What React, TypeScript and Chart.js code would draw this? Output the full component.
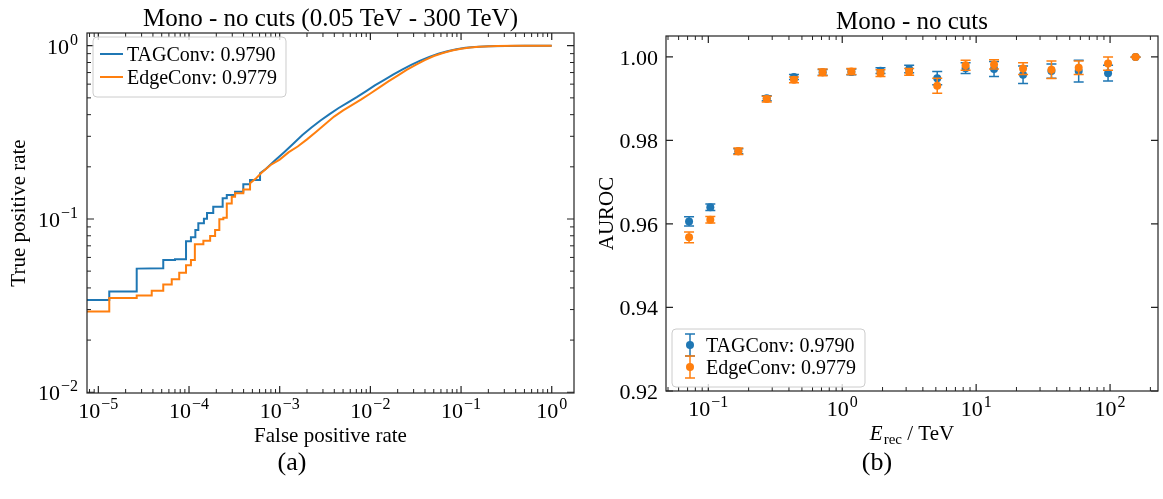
import React, { useEffect, useRef } from 'react';
import { Chart, registerables } from 'chart.js';

Chart.register(...registerables);

const SERIF = '"Liberation Serif", "Times New Roman", Times, serif';
const BLUE = '#1f77b4';
const ORANGE = '#ff7f0e';

// ---------------- data ----------------
const tagLabel = 'TAGConv: 0.9790';
const edgeLabel = 'EdgeConv: 0.9779';

// ROC curve (false positive rate, true positive rate), TAGConv
const tagFpr = [
  1e-6, 1.32e-5, 1.32e-5, 2.65e-5, 2.65e-5, 5.2e-5, 5.2e-5, 7.0e-5, 7.0e-5, 9.27e-5,
  9.27e-5, 1.05e-4, 1.05e-4, 1.175e-4, 1.175e-4, 1.267e-4, 1.267e-4, 1.46e-4, 1.46e-4, 1.58e-4,
  1.58e-4, 1.85e-4, 1.85e-4, 2.35e-4, 2.35e-4, 2.61e-4, 2.61e-4, 3.22e-4, 3.22e-4, 3.97e-4,
  3.97e-4, 4.71e-4, 4.71e-4, 6.07e-4, 6.07e-4,
  7.08e-4, 8.91e-4, 1.12e-3, 1.41e-3, 1.78e-3, 2.24e-3, 2.82e-3, 3.55e-3, 4.47e-3, 5.62e-3,
  7.08e-3, 8.91e-3, 1.12e-2, 1.41e-2, 1.78e-2, 2.24e-2, 2.82e-2, 3.55e-2, 4.47e-2, 5.62e-2,
  7.08e-2, 8.91e-2, 0.112, 0.141, 0.2, 0.316, 0.5, 1.0,
];
const tagTpr = [
  0.0341, 0.0341, 0.0381, 0.0381, 0.0517, 0.0520, 0.0580, 0.0580, 0.0586, 0.0586,
  0.0743, 0.0743, 0.0784, 0.0784, 0.0865, 0.0865, 0.0944, 0.0944, 0.1004, 0.1004,
  0.1083, 0.1083, 0.1178, 0.1178, 0.1316, 0.1316, 0.1375, 0.1375, 0.1437, 0.1437,
  0.1585, 0.1585, 0.168, 0.168, 0.1835,
  0.195, 0.218, 0.243, 0.272, 0.305, 0.337, 0.37, 0.403, 0.437, 0.47,
  0.505, 0.545, 0.59, 0.632, 0.68, 0.728, 0.775, 0.82, 0.862, 0.898,
  0.93, 0.955, 0.972, 0.984, 0.993, 0.997, 0.999, 1.0,
];

// ROC curve, EdgeConv
const edgeFpr = [
  1e-6, 1.32e-5, 1.32e-5, 2.65e-5, 2.65e-5, 3.88e-5, 3.88e-5, 5.2e-5, 5.2e-5, 6.45e-5,
  6.45e-5, 7.8e-5, 7.8e-5, 9.27e-5, 9.27e-5, 1.05e-4, 1.05e-4, 1.16e-4, 1.16e-4, 1.44e-4,
  1.44e-4, 1.71e-4, 1.71e-4, 1.94e-4, 1.94e-4, 2.16e-4, 2.16e-4, 2.39e-4, 2.39e-4, 2.61e-4,
  2.61e-4, 2.96e-4, 2.96e-4, 3.22e-4, 3.22e-4, 3.97e-4, 3.97e-4, 4.71e-4, 4.71e-4,
  5.5e-4, 6.31e-4, 7.94e-4, 1e-3, 1.26e-3, 1.58e-3, 2.0e-3, 2.51e-3, 3.16e-3, 3.98e-3,
  5.01e-3, 6.31e-3, 7.94e-3, 1e-2, 1.26e-2, 1.58e-2, 2e-2, 2.51e-2, 3.16e-2, 3.98e-2,
  5.01e-2, 6.31e-2, 7.94e-2, 0.1, 0.126, 0.158, 0.251, 0.398, 0.631, 1.0,
];
const edgeTpr = [
  0.0292, 0.0292, 0.0350, 0.0350, 0.0362, 0.0362, 0.0385, 0.0385, 0.0418, 0.0418,
  0.0449, 0.0449, 0.049, 0.049, 0.0541, 0.0541, 0.058, 0.058, 0.0714, 0.0714,
  0.0749, 0.0749, 0.0798, 0.0798, 0.0865, 0.0865, 0.0996, 0.0996, 0.1015, 0.1015,
  0.123, 0.123, 0.1345, 0.1345, 0.1406, 0.1406, 0.148, 0.148, 0.1607,
  0.172, 0.185, 0.205, 0.22, 0.243, 0.262, 0.288, 0.318, 0.352, 0.39,
  0.423, 0.455, 0.49, 0.53, 0.575, 0.622, 0.672, 0.725, 0.775, 0.825,
  0.872, 0.908, 0.938, 0.961, 0.977, 0.987, 0.995, 0.998, 0.9995, 1.0,
];

// AUROC per reconstructed-energy bin
const energyTeV = [0.0718, 0.1035, 0.1675, 0.273, 0.436, 0.714, 1.17, 1.93, 3.16, 5.12, 8.34, 13.6, 22.4, 36.5, 58.3, 96.6, 155];
const tagAuroc = [0.9606, 0.9640, 0.9774, 0.9901, 0.9952, 0.9963, 0.9964, 0.9967, 0.9971, 0.9949, 0.9973, 0.9971, 0.9957, 0.9966, 0.9966, 0.9961, 0.99995];
const tagAurocErr = [0.0011, 0.0008, 0.0006, 0.0006, 0.0006, 0.0007, 0.0007, 0.0007, 0.0009, 0.0016, 0.0013, 0.0018, 0.0021, 0.0017, 0.0026, 0.0019, 0.00005];
const edgeAuroc = [0.9568, 0.9610, 0.9774, 0.9899, 0.9945, 0.9963, 0.9965, 0.9961, 0.9964, 0.9931, 0.9980, 0.9982, 0.9972, 0.9969, 0.9974, 0.9984, 0.99995];
const edgeAurocErr = [0.0013, 0.0008, 0.0008, 0.0007, 0.0007, 0.0008, 0.0007, 0.0008, 0.0008, 0.0018, 0.0012, 0.0011, 0.0014, 0.0021, 0.0016, 0.0016, 0.00005];

// ticks
const rocXMajorTicks = [1e-5, 1e-4, 1e-3, 1e-2, 1e-1, 1];
const rocYMajorTicks = [1e-2, 1e-1, 1];
const energyMajorTicks = [0.1, 1, 10, 100];
const aurocTicks = [0.92, 0.94, 0.96, 0.98, 1.0];
const aurocTickLabels = ['0.92', '0.94', '0.96', '0.98', '1.00'];

const ROC_X = { min: 7.5e-6, max: 1.76 };
const ROC_Y = { min: 0.0099, max: 1.184 };
const EN_X = { min: 0.0483, max: 228 };
const AU_Y = { min: 0.92, max: 1.005 };

// ---------------- helpers ----------------
function logMinor(min: number, max: number): number[] {
  const out: number[] = [];
  for (let e = Math.floor(Math.log10(min)); e <= Math.ceil(Math.log10(max)); e++) {
    for (let m = 2; m <= 9; m++) {
      const v = m * Math.pow(10, e);
      if (v >= min && v <= max) out.push(v);
    }
  }
  return out;
}

function drawPow(ctx: CanvasRenderingContext2D, v: number, x: number, y: number, align: 'center' | 'right') {
  const e = Math.round(Math.log10(v));
  const exp = e < 0 ? '\u2212' + Math.abs(e) : String(e);
  ctx.font = `22px ${SERIF}`;
  const wb = ctx.measureText('10').width;
  ctx.font = `16px ${SERIF}`;
  const we = ctx.measureText(exp).width;
  const tot = wb + 1 + we;
  const x0 = align === 'center' ? x - tot / 2 : x - tot;
  ctx.textAlign = 'left';
  ctx.textBaseline = 'alphabetic';
  ctx.font = `22px ${SERIF}`;
  ctx.fillText('10', x0, y);
  ctx.font = `16px ${SERIF}`;
  ctx.fillText(exp, x0 + wb + 1, y - 9);
}

function roundRectPath(ctx: CanvasRenderingContext2D, x: number, y: number, w: number, h: number, r: number) {
  ctx.beginPath();
  ctx.moveTo(x + r, y);
  ctx.lineTo(x + w - r, y);
  ctx.arcTo(x + w, y, x + w, y + r, r);
  ctx.lineTo(x + w, y + h - r);
  ctx.arcTo(x + w, y + h, x + w - r, y + h, r);
  ctx.lineTo(x + r, y + h);
  ctx.arcTo(x, y + h, x, y + h - r, r);
  ctx.lineTo(x, y + r);
  ctx.arcTo(x, y, x + r, y, r);
  ctx.closePath();
}

type Spec = {
  id: string;
  title: string;
  xMajor: number[];
  xMinor: number[];
  yMajor: number[];
  yMinor: number[];
  yLabels?: string[];
  yPow: boolean;
  xTitle: 'fpr' | 'energy';
  yTitle: string;
  yTitleOffset: number;
  legend: 'line' | 'errorbar';
  colors: string[];
  errors?: number[][];
  caption: string;
  captionX: number;
  captionY: number;
};

function mplPlugin(spec: Spec) {
  return {
    id: 'mpl-' + spec.id,
    beforeDatasetDraw(chart: any, args: any) {
      if (!spec.errors) return;
      const i = args.index;
      const errs = spec.errors[i];
      const xs = chart.scales.x;
      const ys = chart.scales.y;
      const ctx: CanvasRenderingContext2D = chart.ctx;
      const a = chart.chartArea;
      ctx.save();
      ctx.beginPath();
      ctx.rect(a.left, a.top, a.right - a.left, a.bottom - a.top);
      ctx.clip();
      ctx.strokeStyle = spec.colors[i];
      ctx.lineWidth = 1.5;
      chart.data.datasets[i].data.forEach((p: any, k: number) => {
        const px = xs.getPixelForValue(p.x);
        const y1 = ys.getPixelForValue(p.y + errs[k]);
        const y2 = ys.getPixelForValue(p.y - errs[k]);
        ctx.beginPath();
        ctx.moveTo(px, y1);
        ctx.lineTo(px, y2);
        ctx.moveTo(px - 5, y1);
        ctx.lineTo(px + 5, y1);
        ctx.moveTo(px - 5, y2);
        ctx.lineTo(px + 5, y2);
        ctx.stroke();
      });
      ctx.restore();
    },
    afterDraw(chart: any) {
      const ctx: CanvasRenderingContext2D = chart.ctx;
      const a = chart.chartArea;
      const xs = chart.scales.x;
      const ys = chart.scales.y;
      ctx.save();
      ctx.fillStyle = '#000';
      ctx.strokeStyle = '#222';

      // ticks (inward, all four sides)
      const xt = (vals: number[], len: number, w: number) => {
        ctx.lineWidth = w;
        vals.forEach((v) => {
          const px = xs.getPixelForValue(v);
          if (px < a.left - 0.5 || px > a.right + 0.5) return;
          ctx.beginPath();
          ctx.moveTo(px, a.bottom);
          ctx.lineTo(px, a.bottom - len);
          ctx.moveTo(px, a.top);
          ctx.lineTo(px, a.top + len);
          ctx.stroke();
        });
      };
      const yt = (vals: number[], len: number, w: number) => {
        ctx.lineWidth = w;
        vals.forEach((v) => {
          const py = ys.getPixelForValue(v);
          if (py < a.top - 0.5 || py > a.bottom + 0.5) return;
          ctx.beginPath();
          ctx.moveTo(a.left, py);
          ctx.lineTo(a.left + len, py);
          ctx.moveTo(a.right, py);
          ctx.lineTo(a.right - len, py);
          ctx.stroke();
        });
      };
      xt(spec.xMinor, 4, 1);
      xt(spec.xMajor, 7, 1.2);
      yt(spec.yMinor, 4, 1);
      yt(spec.yMajor, 7, 1.2);

      // spines
      ctx.lineWidth = 1.2;
      ctx.strokeRect(a.left, a.top, a.right - a.left, a.bottom - a.top);

      // tick labels
      spec.xMajor.forEach((v) => drawPow(ctx, v, xs.getPixelForValue(v), a.bottom + 25, 'center'));
      spec.yMajor.forEach((v, i) => {
        const py = ys.getPixelForValue(v);
        if (spec.yPow) {
          drawPow(ctx, v, a.left - 9, py + 8, 'right');
        } else {
          ctx.font = `22px ${SERIF}`;
          ctx.textAlign = 'right';
          ctx.textBaseline = 'alphabetic';
          ctx.fillText(spec.yLabels![i], a.left - 8, py + 8);
        }
      });

      const cx = (a.left + a.right) / 2;
      const cy = (a.top + a.bottom) / 2;

      // title
      ctx.font = `25px ${SERIF}`;
      ctx.textAlign = 'center';
      ctx.textBaseline = 'alphabetic';
      ctx.fillText(spec.title, cx, a.top - 7);

      // x title
      if (spec.xTitle === 'fpr') {
        ctx.font = `21px ${SERIF}`;
        ctx.textAlign = 'center';
        ctx.fillText('False positive rate', cx, a.bottom + 49);
      } else {
        const fE = `italic 21px ${SERIF}`;
        const fSub = `15px ${SERIF}`;
        const fR = `21px ${SERIF}`;
        ctx.font = fE;
        const wE = ctx.measureText('E').width;
        ctx.font = fSub;
        const wS = ctx.measureText('rec').width;
        ctx.font = fR;
        const wR = ctx.measureText(' / TeV').width;
        const tot = wE + 1 + wS + wR;
        let x0 = cx - tot / 2;
        const by = a.bottom + 49;
        ctx.textAlign = 'left';
        ctx.font = fE;
        ctx.fillText('E', x0, by);
        x0 += wE + 1;
        ctx.font = fSub;
        ctx.fillText('rec', x0, by + 4);
        x0 += wS;
        ctx.font = fR;
        ctx.fillText(' / TeV', x0, by);
      }

      // y title
      ctx.save();
      ctx.translate(a.left - spec.yTitleOffset, cy);
      ctx.rotate(-Math.PI / 2);
      ctx.font = `21px ${SERIF}`;
      ctx.textAlign = 'center';
      ctx.fillText(spec.yTitle, 0, 0);
      ctx.restore();

      // legend
      ctx.font = `20px ${SERIF}`;
      const labels: string[] = chart.data.datasets.map((d: any) => d.label);
      const tw = Math.max(...labels.map((l) => ctx.measureText(l).width));
      const boxL = a.left + 6;
      const boxW = 34 + tw + 9;
      const boxH = spec.legend === 'line' ? 60 : 58;
      const rowH = spec.legend === 'line' ? 23 : 22;
      const boxT = spec.legend === 'line' ? a.top + 4 : a.bottom - 4 - boxH;
      const first = spec.legend === 'line' ? 17 : 16;
      roundRectPath(ctx, boxL, boxT, boxW, boxH, 4);
      ctx.fillStyle = 'rgba(255,255,255,0.8)';
      ctx.fill();
      ctx.strokeStyle = '#cccccc';
      ctx.lineWidth = 1;
      ctx.stroke();
      labels.forEach((lab, i) => {
        const ry = boxT + first + i * rowH;
        const col = spec.colors[i];
        if (spec.legend === 'line') {
          ctx.strokeStyle = col;
          ctx.lineWidth = 2;
          ctx.beginPath();
          ctx.moveTo(boxL + 7, ry);
          ctx.lineTo(boxL + 30, ry);
          ctx.stroke();
        } else {
          const ix = boxL + 18;
          ctx.strokeStyle = col;
          ctx.lineWidth = 1.5;
          ctx.beginPath();
          ctx.moveTo(ix, ry - 11);
          ctx.lineTo(ix, ry + 11);
          ctx.moveTo(ix - 5, ry - 11);
          ctx.lineTo(ix + 5, ry - 11);
          ctx.moveTo(ix - 5, ry + 11);
          ctx.lineTo(ix + 5, ry + 11);
          ctx.stroke();
          ctx.fillStyle = col;
          ctx.beginPath();
          ctx.arc(ix, ry, 4, 0, Math.PI * 2);
          ctx.fill();
        }
        ctx.fillStyle = '#000';
        ctx.font = `20px ${SERIF}`;
        ctx.textAlign = 'left';
        ctx.textBaseline = 'alphabetic';
        ctx.fillText(lab, boxL + 34, ry + 7);
      });

      // sub-figure caption
      ctx.fillStyle = '#000';
      ctx.font = `26px ${SERIF}`;
      ctx.textAlign = 'center';
      ctx.fillText(spec.caption, spec.captionX, spec.captionY);

      ctx.restore();
    },
  };
}

function rocConfig(): any {
  const spec: Spec = {
    id: 'roc',
    title: 'Mono - no cuts (0.05 TeV - 300 TeV)',
    xMajor: rocXMajorTicks,
    xMinor: logMinor(ROC_X.min, ROC_X.max),
    yMajor: rocYMajorTicks,
    yMinor: logMinor(ROC_Y.min, ROC_Y.max),
    yPow: true,
    xTitle: 'fpr',
    yTitle: 'True positive rate',
    yTitleOffset: 62,
    legend: 'line',
    colors: [BLUE, ORANGE],
    caption: '(a)',
    captionX: 292,
    captionY: 470,
  };
  return {
    type: 'scatter',
    data: {
      datasets: [
        {
          label: tagLabel,
          data: tagFpr.map((x, i) => ({ x, y: tagTpr[i] })),
          showLine: true,
          borderColor: BLUE,
          backgroundColor: BLUE,
          borderWidth: 2,
          pointRadius: 0,
          fill: false,
          order: 2,
        },
        {
          label: edgeLabel,
          data: edgeFpr.map((x, i) => ({ x, y: edgeTpr[i] })),
          showLine: true,
          borderColor: ORANGE,
          backgroundColor: ORANGE,
          borderWidth: 2,
          pointRadius: 0,
          fill: false,
          order: 1,
        },
      ],
    },
    options: {
      responsive: false,
      animation: false,
      events: [],
      layout: { padding: { left: 87, top: 33, right: 11, bottom: 106 } },
      plugins: { legend: { display: false }, title: { display: false }, tooltip: { enabled: false } },
      scales: {
        x: { type: 'logarithmic', min: ROC_X.min, max: ROC_X.max, display: false },
        y: { type: 'logarithmic', min: ROC_Y.min, max: ROC_Y.max, display: false },
      },
    },
    plugins: [mplPlugin(spec)],
  };
}

function aurocConfig(): any {
  const spec: Spec = {
    id: 'auroc',
    title: 'Mono - no cuts',
    xMajor: energyMajorTicks,
    xMinor: logMinor(EN_X.min, EN_X.max),
    yMajor: aurocTicks,
    yMinor: [],
    yLabels: aurocTickLabels,
    yPow: false,
    xTitle: 'energy',
    yTitle: 'AUROC',
    yTitleOffset: 53,
    legend: 'errorbar',
    colors: [BLUE, ORANGE],
    errors: [tagAurocErr, edgeAurocErr],
    caption: '(b)',
    captionX: 292,
    captionY: 470,
  };
  return {
    type: 'scatter',
    data: {
      datasets: [
        {
          label: tagLabel,
          data: energyTeV.map((x, i) => ({ x, y: tagAuroc[i] })),
          pointRadius: 4,
          pointBackgroundColor: BLUE,
          pointBorderWidth: 0,
          backgroundColor: BLUE,
          borderColor: BLUE,
          order: 2,
        },
        {
          label: edgeLabel,
          data: energyTeV.map((x, i) => ({ x, y: edgeAuroc[i] })),
          pointRadius: 4,
          pointBackgroundColor: ORANGE,
          pointBorderWidth: 0,
          backgroundColor: ORANGE,
          borderColor: ORANGE,
          order: 1,
        },
      ],
    },
    options: {
      responsive: false,
      animation: false,
      events: [],
      layout: { padding: { left: 81, top: 36, right: 5, bottom: 108 } },
      plugins: { legend: { display: false }, title: { display: false }, tooltip: { enabled: false } },
      scales: {
        x: { type: 'logarithmic', min: EN_X.min, max: EN_X.max, display: false },
        y: { type: 'linear', min: AU_Y.min, max: AU_Y.max, display: false },
      },
    },
    plugins: [mplPlugin(spec)],
  };
}

function ChartCanvas({ make, left, width, height }: { make: () => any; left: number; width: number; height: number }) {
  const ref = useRef<HTMLCanvasElement>(null);
  useEffect(() => {
    const chart = new Chart(ref.current as HTMLCanvasElement, make());
    return () => chart.destroy();
  }, []);
  return (
    <canvas
      ref={ref}
      width={width}
      height={height}
      style={{ position: 'absolute', left, top: 0, width, height, display: 'block' }}
    />
  );
}

export default function App() {
  return (
    <div style={{ position: 'fixed', left: 0, top: 0, width: 1163, height: 499, background: '#fff', overflow: 'hidden' }}>
      <ChartCanvas make={rocConfig} left={0} width={585} height={499} />
      <ChartCanvas make={aurocConfig} left={585} width={578} height={499} />
    </div>
  );
}
